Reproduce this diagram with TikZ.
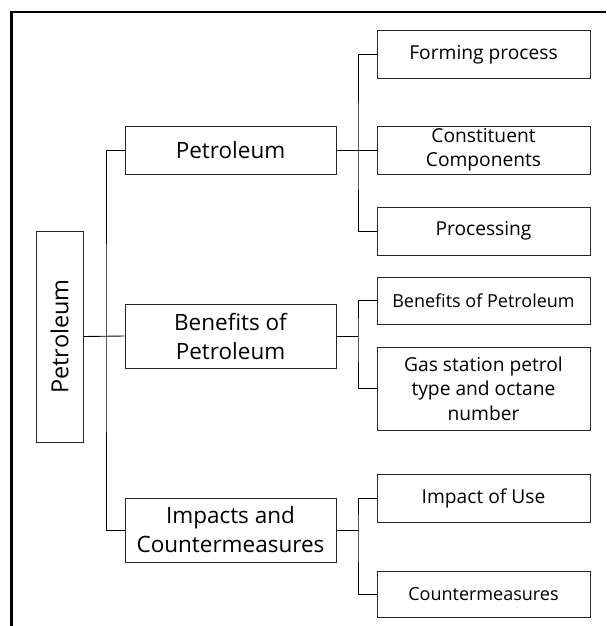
\documentclass[tikz,border=0pt]{standalone}
\usepackage{fontspec}
\setmainfont{Open Sans}
\usetikzlibrary{positioning}

\begin{document}
\begin{tikzpicture}[x=1pt, y=-1pt,
  box/.style={draw=black!85, line width=1pt, align=center, inner sep=0pt, minimum width=213pt, minimum height=47pt},
  topic/.style={box, minimum width=211pt, font=\fontsize{22.5}{29}\selectfont},
  sub/.style={box, font=\fontsize{19.2}{24.5}\selectfont},
  small/.style={sub, font=\fontsize{18}{22}\selectfont},
  conn/.style={black, line width=0.9pt}]
\useasboundingbox (0,0) rectangle (606,626);
% outer frame
\draw[line width=2.4pt] (11.5,626) -- (11.5,12) -- (606,12);

\node[topic, rotate=90, font=\fontsize{23.5}{29}\selectfont] (root) at (59.5,336.5) {Petroleum};

\node[topic, minimum height=48pt] (petro) at (230.5,150) {Petroleum};
\node[topic, minimum height=64pt] (benefit) at (230.5,336) {Benefits of\\Petroleum};
\node[topic, minimum height=64pt] (impact) at (230.5,530) {Impacts and\\Countermeasures};

\node[sub] (forming) at (483.5,54.5) {Forming process};
\node[sub, minimum height=48pt] (constit) at (483.5,150) {Constituent\\Components};
\node[sub, minimum height=48pt] (process) at (483.5,231) {Processing};
\node[small] (benpet) at (483.5,300.5) {Benefits of Petroleum};
\node[sub, minimum height=83pt] (gastype) at (483.5,388.5) {Gas station petrol\\type and octane\\number};
\node[sub, minimum height=48pt] (impuse) at (483.5,498) {Impact of Use};
\node[small, minimum height=46pt] (counter) at (483.5,594) {Countermeasures};

% trunk
\coordinate (trunk) at (106,336);
\draw[conn] (root.south) -- (benefit.west);
\draw[conn] (petro.west) -| (trunk) |- (impact.west);

% branches
\coordinate (split1) at (358,150);
\coordinate (split2) at (358,336);
\coordinate (split3) at (358,530);
\draw[conn] (petro.east) -- (constit.west);
\draw[conn] (forming.west) -| (split1) |- (process.west);
\draw[conn] (benefit.east) -- (split2);
\draw[conn] (benpet.west) -| (split2) |- (gastype.west);
\draw[conn] (impact.east) -- (split3);
\draw[conn] (impuse.west) -| (split3) |- (counter.west);
\end{tikzpicture}
\end{document}
